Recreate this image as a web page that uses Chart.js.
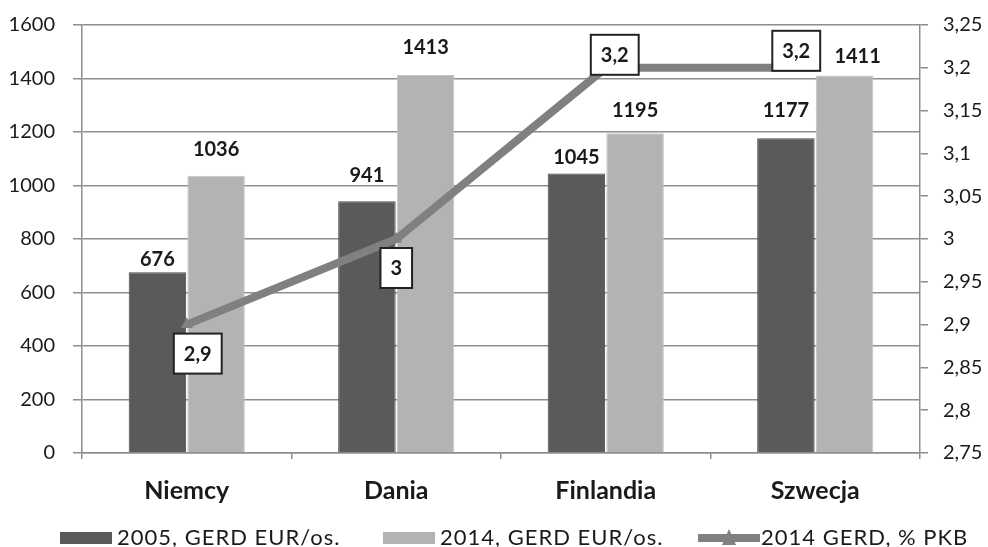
<!DOCTYPE html>
<html>
<head>
<meta charset="utf-8">
<script src="https://cdn.jsdelivr.net/npm/chart.js@4.4.1/dist/chart.umd.min.js"></script>
<style>
  html, body { margin: 0; padding: 0; background: #fff; }
  #wrap { width: 988px; height: 547px; }
</style>
</head>
<body>
<div id="wrap"><canvas id="gerdChart"></canvas></div>
<script>
// Data
const countries = ['Niemcy', 'Dania', 'Finlandia', 'Szwecja'];
const gerd2005 = [676, 941, 1045, 1177];
const gerd2014 = [1036, 1413, 1195, 1411];
const gerdPkb2014 = [2.9, 3.0, 3.2, 3.2];
const seriesNames = ['2005, GERD EUR/os.', '2014, GERD EUR/os.', '2014 GERD, % PKB'];

// label placement (styles only)
const barLabelLift = [[13, 26, 16, 28], [26, 27, 23, 19]];
const barLabelShiftX = [[0, 0, 0, 0], [0, 0, 0, 13]];
const lineLabelOffsets = [[11, 29], [0, 29], [9, -13], [-19, -17]];
const legendX = [60, 383, 698];

const DARK = '#5a5a5a';
const LIGHT = '#b3b3b3';
const LINE = '#808080';
const FONT = 'Lato, "Open Sans", sans-serif';

const fmt = v => {
    let s = Number(v).toFixed(2).replace(/0+$/, '').replace(/\.$/, '');
    return s.replace('.', ',');
};

// draw value labels and custom legend
const labelsPlugin = {
    id: 'labelsPlugin',
    afterDatasetsDraw(chart) {
        const c = chart.ctx;
        c.save();
        c.textAlign = 'center';
        c.textBaseline = 'middle';
        c.fillStyle = '#1a1a1a';
        c.font = 'bold 20px ' + FONT;
        [0, 1].forEach(di => {
            const meta = chart.getDatasetMeta(di);
            meta.data.forEach((bar, i) => {
                const v = chart.data.datasets[di].data[i];
                c.fillText(String(v), bar.x + barLabelShiftX[di][i], bar.y - barLabelLift[di][i]);
            });
        });

        const lm = chart.getDatasetMeta(2);
        lm.data.forEach((pt, i) => {
            const txt = fmt(gerdPkb2014[i]);
            const w = c.measureText(txt).width + 20;
            const h = 40;
            const cx = pt.x + lineLabelOffsets[i][0];
            const cy = pt.y + lineLabelOffsets[i][1];
            c.fillStyle = '#fff';
            c.fillRect(cx - w / 2, cy - h / 2, w, h);
            c.strokeStyle = '#222';
            c.lineWidth = 2;
            c.strokeRect(cx - w / 2, cy - h / 2, w, h);
            c.fillStyle = '#1a1a1a';
            c.fillText(txt, cx, cy + 1);
        });
        c.restore();
    },
    afterDraw(chart) {
        const c = chart.ctx;
        c.save();
        c.font = '22px ' + FONT;
        c.letterSpacing = '1px';
        c.textBaseline = 'middle';
        c.textAlign = 'left';
        const y = 538;
        const colors = [DARK, LIGHT, LINE];
        seriesNames.forEach((name, i) => {
            const x = legendX[i];
            if (i < 2) {
                c.fillStyle = colors[i];
                c.fillRect(x, y - 6, 52, 12);
            } else {
                c.strokeStyle = LINE;
                c.lineWidth = 8;
                c.beginPath();
                c.moveTo(x, y);
                c.lineTo(x + 62, y);
                c.stroke();
                c.fillStyle = LINE;
                c.beginPath();
                c.moveTo(x + 31, y - 9);
                c.lineTo(x + 38, y + 7);
                c.lineTo(x + 24, y + 7);
                c.closePath();
                c.fill();
            }
            c.fillStyle = '#1a1a1a';
            c.fillText(name, x + (i < 2 ? 57 : 63), y);
        });
        c.restore();
    }
};

new Chart(document.getElementById('gerdChart'), {
    type: 'bar',
    data: {
        labels: countries,
        datasets: [{
            label: seriesNames[0],
            data: gerd2005,
            backgroundColor: DARK,
            borderColor: '#4a4a4a',
            borderWidth: 1,
            yAxisID: 'y'
        }, {
            label: seriesNames[1],
            data: gerd2014,
            backgroundColor: LIGHT,
            borderColor: '#c4c4c4',
            borderWidth: 1,
            yAxisID: 'y'
        }, {
            type: 'line',
            label: seriesNames[2],
            data: gerdPkb2014,
            borderColor: LINE,
            backgroundColor: LINE,
            borderWidth: 8,
            pointStyle: 'triangle',
            pointRadius: 7,
            pointBackgroundColor: LINE,
            pointBorderWidth: 0,
            tension: 0,
            order: -1,
            yAxisID: 'y1'
        }]
    },
    options: {
        responsive: true,
        maintainAspectRatio: false,
        animation: false,
        layout: { padding: { top: 25, left: 0, right: 0, bottom: 0 } },
        datasets: {
            bar: { categoryPercentage: 0.56, barPercentage: 0.98 }
        },
        plugins: {
            legend: { display: false },
            tooltip: { enabled: false }
        },
        scales: {
            x: {
                grid: {
                    offset: true,
                    drawOnChartArea: false,
                    tickLength: 6,
                    color: '#8e8e8e',
                    lineWidth: 1.5
                },
                border: { color: '#8e8e8e', width: 1.5 },
                ticks: {
                    color: '#1a1a1a',
                    font: { family: FONT, size: 25, weight: 'bold' },
                    padding: 17
                },
                afterFit(scale) { scale.height = 94; }
            },
            y: {
                position: 'left',
                min: 0,
                max: 1600,
                ticks: {
                    stepSize: 200,
                    color: '#1a1a1a',
                    font: { family: FONT, size: 20 },
                    padding: 18,
                    callback: v => String(v)
                },
                grid: { color: '#8e8e8e', lineWidth: 1.5, tickLength: 9 },
                border: { color: '#8e8e8e', width: 1.5 },
                afterFit(scale) { scale.width = 82; scale.paddingTop = 0; scale.paddingBottom = 0; }
            },
            y1: {
                position: 'right',
                min: 2.75,
                max: 3.25,
                ticks: {
                    stepSize: 0.05,
                    color: '#1a1a1a',
                    font: { family: FONT, size: 20 },
                    padding: 15,
                    callback: v => fmt(v)
                },
                grid: { drawOnChartArea: false, color: '#8e8e8e', lineWidth: 1.5, tickLength: 8 },
                border: { color: '#8e8e8e', width: 1.5 },
                afterFit(scale) { scale.width = 68; scale.paddingTop = 0; scale.paddingBottom = 0; }
            }
        }
    },
    plugins: [labelsPlugin]
});
</script>
</body>
</html>
